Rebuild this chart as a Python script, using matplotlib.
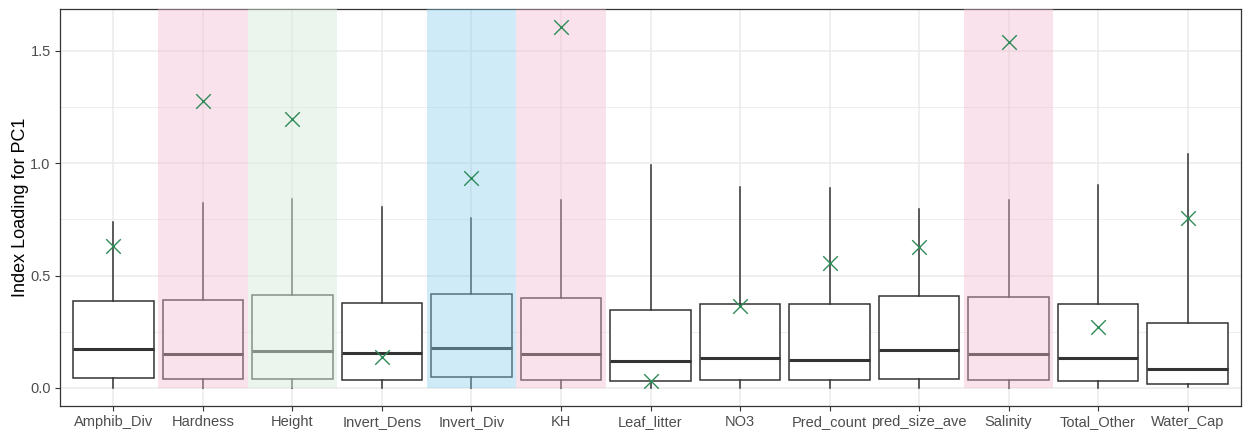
import matplotlib
matplotlib.use("Agg")
import matplotlib.pyplot as plt
from matplotlib.patches import Rectangle

plt.rcParams["font.family"] = ["Liberation Sans", "DejaVu Sans"]

# data
categories = ["Amphib_Div", "Hardness", "Height", "Invert_Dens", "Invert_Div", "KH",
              "Leaf_litter", "NO3", "Pred_count", "pred_size_ave", "Salinity",
              "Total_Other", "Water_Cap"]
whisk_lo = [0.0, 0.0, 0.0, 0.0, 0.0, 0.0, 0.0, 0.0, 0.0, 0.0, 0.0, 0.0, 0.003]
q1 = [0.045, 0.039, 0.039, 0.036, 0.048, 0.036, 0.031, 0.034, 0.034, 0.040, 0.036, 0.031, 0.016]
median = [0.172, 0.151, 0.165, 0.156, 0.177, 0.151, 0.120, 0.132, 0.125, 0.170, 0.151, 0.132, 0.085]
q3 = [0.386, 0.390, 0.414, 0.378, 0.418, 0.402, 0.347, 0.375, 0.374, 0.409, 0.406, 0.374, 0.289]
whisk_hi = [0.737, 0.823, 0.841, 0.804, 0.755, 0.835, 0.994, 0.894, 0.891, 0.795, 0.837, 0.903, 1.040]
marker_vals = [0.632, 1.277, 1.197, 0.137, 0.936, 1.607, 0.032, 0.366, 0.555, 0.629, 1.541, 0.271, 0.755]

# highlighted columns and their colours
highlight = {"Hardness": ("#F2B8CE", 0.4), "Height": ("#D8EBDD", 0.5),
             "Invert_Div": ("skyblue", 0.4), "KH": ("#F2B8CE", 0.4),
             "Salinity": ("#F2B8CE", 0.4)}

fig, ax = plt.subplots(figsize=(12.45, 4.3), dpi=100)
fig.subplots_adjust(left=0.048, right=0.997, top=0.978, bottom=0.056)

pos = list(range(1, len(categories) + 1))
stats = []
for i, c in enumerate(categories):
    stats.append(dict(label=c, whislo=whisk_lo[i], q1=q1[i], med=median[i],
                      q3=q3[i], whishi=whisk_hi[i], fliers=[]))

ax.bxp(stats, positions=pos, widths=0.9, showcaps=False, patch_artist=True,
       boxprops=dict(facecolor="white", edgecolor="#333333", linewidth=1.1),
       whiskerprops=dict(color="#333333", linewidth=1.1),
       medianprops=dict(color="#333333", linewidth=2.2), zorder=2)

for i, c in enumerate(categories):
    if c in highlight:
        col, a = highlight[c]
        ax.add_patch(Rectangle((pos[i] - 0.5, 0), 1.0, 5, facecolor=col,
                               alpha=a, edgecolor="none", zorder=3))

ax.scatter(pos, marker_vals, marker="x", s=110, color="#2E8B57",
           linewidths=1.0, zorder=4)

ax.set_xlim(0.4, len(categories) + 0.6)
ax.set_ylim(-0.08, 1.684)
ax.set_yticks([0.0, 0.5, 1.0, 1.5])
ax.set_yticklabels(["0.0", "0.5", "1.0", "1.5"])
ax.set_yticks([0.25, 0.75, 1.25], minor=True)
ax.set_xticks(pos)
ax.set_xticklabels(categories)

ax.grid(True, which="major", color="#EBEBEB", linewidth=1.1, zorder=0)
ax.grid(True, which="minor", axis="y", color="#EBEBEB", linewidth=0.6, zorder=0)
ax.set_axisbelow(True)
ax.tick_params(axis="both", which="major", length=3.5, color="#333333",
               labelsize=10.5, labelcolor="#4D4D4D", pad=3)
ax.tick_params(axis="y", which="minor", length=0)
for s in ax.spines.values():
    s.set_color("#333333")
    s.set_linewidth(0.9)

ax.set_ylabel("Index Loading for PC1", fontsize=13, labelpad=1)

fig.savefig("out.png", dpi=100)
